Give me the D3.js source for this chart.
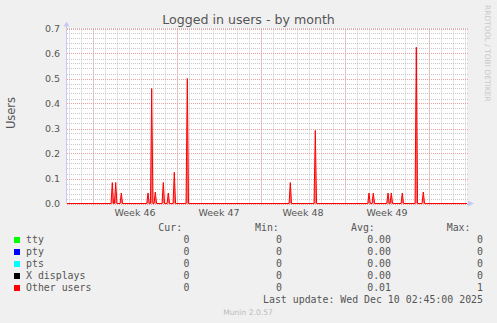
<!DOCTYPE html>
<html>
<head>
<meta charset="utf-8">
<script src="https://cdn.jsdelivr.net/npm/d3@7"></script>
<style>
  body { margin: 0; background: #f0f0f0; }
  svg text { font-family: "DejaVu Sans", sans-serif; fill: #555; }
  svg text.mono { font-family: "DejaVu Sans Mono", monospace; font-size: 9.9px; }
</style>
</head>
<body>
<svg id="users-chart" width="497" height="323"></svg>
<script>
// graph window: 800 hours, 2 hours per pixel
const graphStart = new Date(2025, 10, 7, 20, 0);
const graphHours = 800;

const yTicks = [0, 0.1, 0.2, 0.3, 0.4, 0.5, 0.6, 0.7];
const yMinorTicks = d3.range(0, 0.701, 0.02);

// "Other users" spikes, hours after graphStart and value
const spikeHours  = [90.6, 97.4, 108.6, 162, 169.4, 176.6, 192.6, 202.6, 214.6, 240.6,
                     446.6, 496.6, 604, 612.6, 642, 648.6, 670.6, 698.6, 712.6];
const spikeValues = [0.084, 0.084, 0.042, 0.042, 0.46, 0.046, 0.084, 0.042, 0.125, 0.50,
                     0.084, 0.292, 0.042, 0.042, 0.042, 0.042, 0.042, 0.625, 0.046];

const legendNames  = ["tty", "pty", "pts", "X displays", "Other users"];
const legendColors = ["#00ff00", "#0000ff", "#00ffff", "#000000", "#ff0000"];
const curValues = ["0", "0", "0", "0", "0"];
const minValues = ["0", "0", "0", "0", "0"];
const avgValues = ["0.00", "0.00", "0.00", "0.00", "0.01"];
const maxValues = ["0", "0", "0", "0", "1"];

const svg = d3.select("#users-chart");
const plot = {left: 67, right: 467, top: 28.5, bottom: 203.5};

const x = d3.scaleTime()
    .domain([graphStart, d3.timeHour.offset(graphStart, graphHours)])
    .range([plot.left, plot.right]);
const y = d3.scaleLinear().domain([0, 0.7]).range([plot.bottom, plot.top]);

svg.append("rect")
    .attr("x", plot.left).attr("y", plot.top)
    .attr("width", plot.right - plot.left).attr("height", plot.bottom - plot.top)
    .attr("fill", "#ffffff");

const crisp = v => Math.round(v) + 0.5;
const grid = svg.append("g").attr("fill", "none").attr("stroke-width", 1);

// minor grid
const days = d3.timeDay.range(x.domain()[0], x.domain()[1]);
grid.selectAll(".vmin").data(days).enter().append("line")
    .attr("x1", d => crisp(x(d))).attr("x2", d => crisp(x(d)))
    .attr("y1", plot.top).attr("y2", plot.bottom)
    .attr("stroke", "#c8c8c8").attr("stroke-dasharray", "1,1");
grid.selectAll(".hmin").data(yMinorTicks).enter().append("line")
    .attr("x1", plot.left).attr("x2", plot.right + 1)
    .attr("y1", d => crisp(y(d))).attr("y2", d => crisp(y(d)))
    .attr("stroke", "#c8c8c8").attr("stroke-dasharray", "1,1");

// major grid
const mondays = d3.timeMonday.range(x.domain()[0], x.domain()[1]);
grid.selectAll(".vmaj").data(mondays).enter().append("line")
    .attr("x1", d => crisp(x(d))).attr("x2", d => crisp(x(d)))
    .attr("y1", plot.top).attr("y2", plot.bottom + 2)
    .attr("stroke", "#e8a0a0").attr("stroke-dasharray", "1,1");
grid.selectAll(".hmaj").data(yTicks).enter().append("line")
    .attr("x1", plot.left).attr("x2", plot.right + 1)
    .attr("y1", d => crisp(y(d))).attr("y2", d => crisp(y(d)))
    .attr("stroke", "#e8a0a0").attr("stroke-dasharray", "1,1");

// series
const pts = [[0, 0]];
spikeHours.forEach((h, i) => {
  pts.push([h - 2.5, 0], [h, spikeValues[i]], [h + 2.5, 0]);
});
pts.push([graphHours, 0]);
const px = d => x(d3.timeHour.offset(graphStart, 0) .getTime() + d[0] * 3600e3);

svg.append("path").datum(pts)
    .attr("fill", "#ff5050").attr("fill-opacity", 0.8)
    .attr("d", d3.area().x(px).y0(y(0)).y1(d => y(d[1])));
svg.append("path").datum(pts)
    .attr("fill", "none").attr("stroke", "#ff0000").attr("stroke-width", 1)
    .attr("d", d3.line().x(px).y(d => y(d[1])));

// axes
svg.append("line")
    .attr("x1", plot.left - 0.5).attr("x2", plot.left - 0.5)
    .attr("y1", plot.top - 3).attr("y2", plot.bottom)
    .attr("stroke", "#c8c8f4");
svg.append("path")
    .attr("d", `M${plot.left - 3.5},${plot.top - 2}L${plot.left - 0.5},${plot.top - 7}L${plot.left + 2.5},${plot.top - 2}Z`)
    .attr("fill", "#c8c8f4");
svg.append("path")
    .attr("d", `M${plot.right + 1},${plot.bottom - 3}L${plot.right + 7},${plot.bottom}L${plot.right + 1},${plot.bottom + 3}Z`)
    .attr("fill", "#c8c8f4");

svg.append("g").selectAll("text").data(yTicks).enter().append("text")
    .attr("x", 60).attr("y", d => y(d) + 3.4)
    .attr("text-anchor", "end").attr("font-size", "9.5px")
    .text(d => d.toFixed(1));

const weekFmt = d3.timeFormat("%V");
const weeks = d3.timeMonday.range(d3.timeDay.offset(x.domain()[0], -7), x.domain()[1])
    .map(m => ({m: m, mid: d3.timeHour.offset(m, 84)}))
    .filter(w => w.mid > x.domain()[0] && w.mid < x.domain()[1]);
svg.append("g").selectAll("text").data(weeks).enter().append("text")
    .attr("x", d => x(d.mid)).attr("y", 215.7)
    .attr("text-anchor", "middle").attr("font-size", "9.5px")
    .text(d => "Week " + weekFmt(d.m));

svg.append("text")
    .attr("transform", "translate(15,113) rotate(-90)")
    .attr("text-anchor", "middle").attr("font-size", "11.5px")
    .text("Users");

svg.append("text")
    .attr("x", 248.5).attr("y", 24.3)
    .attr("text-anchor", "middle").attr("font-size", "12.6px")
    .text("Logged in users - by month");

svg.append("text")
    .attr("transform", "translate(485,5) rotate(90)")
    .attr("font-size", "7.5px").style("fill", "#c8c8c8")
    .text("RRDTOOL / TOBI OETIKER");

// legend
const lg = svg.append("g");
[["Cur:", 158.3], ["Min:", 255], ["Avg:", 351], ["Max:", 446.7]].forEach(h => {
  lg.append("text").attr("class", "mono").attr("x", h[1]).attr("y", 231.3).text(h[0]);
});
const rows = lg.selectAll(".row").data(legendNames).enter().append("g")
    .attr("transform", (d, i) => `translate(0,${243.3 + i * 12})`);
rows.append("rect")
    .attr("x", 14).attr("y", -6.3).attr("width", 6).attr("height", 6)
    .attr("fill", (d, i) => legendColors[i]);
rows.append("text").attr("class", "mono").attr("x", 26).text(d => d);
[[curValues, 189.5], [minValues, 282], [avgValues, 391], [maxValues, 483]].forEach(c => {
  rows.append("text").attr("class", "mono")
      .attr("x", c[1]).attr("text-anchor", "end")
      .text((d, i) => c[0][i]);
});
lg.append("text").attr("class", "mono")
    .attr("x", 483).attr("y", 303.3).attr("text-anchor", "end")
    .text("Last update: Wed Dec 10 02:45:00 2025");

svg.append("text")
    .attr("x", 248).attr("y", 315)
    .attr("text-anchor", "middle").attr("font-size", "7.6px").style("fill", "#bbbbbb")
    .text("Munin 2.0.57");
</script>
</body>
</html>
